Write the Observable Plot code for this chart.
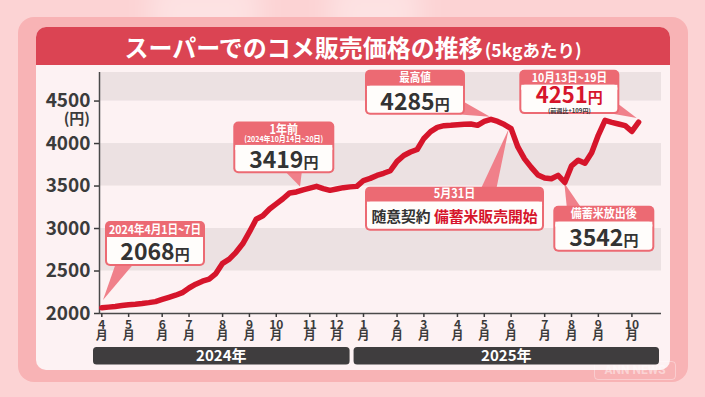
<!DOCTYPE html>
<html><head><meta charset="utf-8">
<script src="https://cdn.jsdelivr.net/npm/d3@7"></script>
<script src="https://cdn.jsdelivr.net/npm/@observablehq/plot@0.6"></script>
<style>
html,body{margin:0;padding:0;}
body{width:705px;height:397px;overflow:hidden;background:#fcd3d4;font-family:'Noto Sans CJK JP',sans-serif;}
#wrap{position:relative;width:705px;height:397px;overflow:hidden;}
.glow{position:absolute;top:-20px;height:70px;background:rgba(255,255,255,0.35);filter:blur(14px);}
#card{position:absolute;left:18px;top:17px;width:670px;height:365px;background:#f8b3b5;border-radius:16px;}
#panel{position:absolute;left:36px;top:27px;width:634px;height:343px;background:#fdf2f3;border-radius:10px;}
#title{position:absolute;left:36px;top:27px;width:634px;height:38px;background:#db4453;border-radius:10px 10px 0 0;color:#fff;display:flex;align-items:center;justify-content:center;}
#title .in{display:inline-block;white-space:nowrap;font-weight:700;}
#title .t1{font-size:24px;}
#title .t2{font-size:17.5px;margin-left:2px;}
#chart{position:absolute;left:0;top:0;}
#mark{position:absolute;left:594px;top:361px;width:80px;height:17px;border:1px solid rgba(255,255,255,0.35);border-radius:4px;color:rgba(255,255,255,0.45);font:700 12px 'Roboto',sans-serif;text-align:center;line-height:17px;}
</style></head>
<body>
<div id="wrap">
  <div class="glow" style="left:150px;width:110px;"></div>
  <div class="glow" style="left:330px;width:90px;"></div>
  <div id="card"></div>
  <div id="panel"></div>
  <div id="title"><span class="in"><span class="t1">スーパーでのコメ販売価格の推移</span><span class="t2">(5kgあたり)</span></span></div>
  <div id="mark">ANN NEWS</div>
  <div id="chart"></div>
</div>
<script>
// ---- data ----
const startWeek = "2024-04-01"; // week 0 = 2024年4月1日~7日
const prices = [
  2068, 2075, 2083, 2093, 2104, 2110, 2118, 2128, 2140, 2165,
  2190, 2215, 2245, 2300, 2345, 2380, 2405, 2470, 2590, 2640,
  2720, 2820, 2960, 3110, 3150, 3230, 3290, 3350, 3419, 3430,
  3455, 3475, 3496, 3470, 3449, 3465, 3481, 3490, 3496, 3565,
  3590, 3625, 3650, 3680, 3790, 3860, 3900, 3930, 4060, 4140,
  4190, 4210, 4214, 4220, 4226, 4230, 4214, 4260, 4285, 4260,
  4223, 4176, 3960, 3820, 3720, 3630, 3595, 3585, 3625, 3542,
  3737, 3804, 3768, 3891, 4100, 4273, 4250, 4230, 4210, 4142,
  4251
];
const monthTickWeeks = [0,4,9,13,18,22,26,31,35,39,44,48,53,57,61,66,70,74,79];
const monthLabels = ["4","5","6","7","8","9","10","11","12","1","2","3","4","5","6","7","8","9","10"];
const yearLabels = ["2024年","2025年"];
const yTicks = [2000,2500,3000,3500,4000,4500];
const bandRanges = [[2500,3000],[3500,4000],[4500,4836]];
const notes = [
  {week:0,  head:["2024年4月1日~7日"], kind:"amount"},
  {week:28, head:["1年前","(2024年10月14日~20日)"], kind:"amount"},
  {week:58, head:["最高値"], kind:"amount"},
  {week:80, head:["10月13日~19日"], kind:"amount", red:true, sub:"(前週比+109円)"},
  {week:60 + 5/7, head:["5月31日"], kind:"text", parts:["随意契約 ","備蓄米販売開始"]},
  {week:69, head:["備蓄米放出後"], kind:"amount"}
];

// ---- chart ----
const X0 = -0.343, X1 = 83.41, YMAX = 4836;
const weeks = prices.map((p,i)=>({week:i, price:p}));
const labelOf = new Map(monthTickWeeks.map((t,i)=>[t, monthLabels[i]]));
const INK = "#3b3b3b", LINE = "#d6152b", CORAL = "#ec6a73", PTR = "#f0808a";

const chart = Plot.plot({
  width: 705, height: 397,
  marginLeft: 99, marginRight: 44, marginTop: 72, marginBottom: 84,
  x: {domain:[X0, X1]},
  y: {domain:[2000, YMAX]},
  style: {background:"transparent", fontFamily:"'Noto Sans CJK JP', sans-serif", color: INK, overflow:"visible"},
  marks: [
    Plot.rect(bandRanges, {x1: () => X0, x2: () => X1, y1: d=>d[0], y2: d=>d[1], fill:"#ece1e2"}),
    Plot.ruleX([X0], {y1: 2000, y2: YMAX, stroke:"#4a4a4a", strokeWidth:1.5}),
    Plot.ruleY([2000], {stroke:"#4a4a4a", strokeWidth:1.5}),
    Plot.axisY({ticks: yTicks, tickSize:5, tickPadding:4, tickFormat: d=>String(d), fontSize:19, fontWeight:"bold", label:null, strokeWidth:1.5}),
    Plot.axisX({ticks: monthTickWeeks, tickSize:4, tickPadding:3, tickFormat: d=>labelOf.get(d)+"\n月", fontSize:12, lineHeight:0.96, fontWeight:"bold", label:null, strokeWidth:1.5}),
    Plot.line(weeks, {x:"week", y:"price", stroke: LINE, strokeWidth:5.5, strokeLinejoin:"round", strokeLinecap:"round"})
  ]
});
document.getElementById("chart").appendChild(chart);

const svg = d3.select(chart);
const xs = chart.scale("x"), ys = chart.scale("y");
const px = w => xs.apply(w), py = v => ys.apply(v);
function valueAt(w){ const i=Math.floor(w), t=w-i; return i+1<prices.length ? prices[i]*(1-t)+prices[i+1]*t : prices[i]; }

// (円) unit label
svg.append("text").attr("x", px(X0)-9).attr("y", py(4500)+23).attr("text-anchor","end")
  .attr("font-size",15).attr("font-weight",700).attr("fill",INK).text("(円)");

// year bars
const axisY = py(2000), xl = px(X0), xr = px(X1);
const mid = px((monthTickWeeks[8]+monthTickWeeks[9])/2);
const spans = [[xl-6, mid], [mid+4, xr-2]];
const yb = svg.append("g");
yearLabels.forEach((lab,i)=>{
  const [a,b] = spans[i];
  yb.append("rect").attr("x",a).attr("y",axisY+34).attr("width",b-a).attr("height",17.5).attr("rx",3.5).attr("fill","#3f3d3e");
  yb.append("text").attr("x",(a+b)/2).attr("y",axisY+48).attr("text-anchor","middle")
    .attr("font-size",15).attr("font-weight",700).attr("fill","#fff").text(lab);
});

// callouts
const layouts = [
  {dx:3.7, dy:-86.2, w:100, h:45, hh:16, base:[[13.7,-41.4],[30.7,-41.4]], tip:[1.7,-7.2], heads:[[8.3,12]], bodyY:30.7},
  {dx:-55.9, dy:-70.8, w:101, h:51.6, hh:23.3, base:[[-2.5,-19.4],[12.5,-19.4]], tip:[10.8,-5.8], heads:[[7.6,12.5],[17.8,8]], bodyY:38.3},
  {dx:-125.5, dy:-49, w:100, h:45, hh:16, base:[[-25.5,-16.3],[-30.5,-4.2]], tip:[-0.5,-2], heads:[[8,12]], bodyY:31.7},
  {dx:-118.8, dy:-51.9, w:100, h:44.3, hh:15, base:[[-18.8,-17],[-24,-7.8]], tip:[-1.4,-3.6], heads:[[7.5,12]], bodyY:25, subY:41},
  {dx:-143.7, dy:59.7, w:179, h:44, hh:15, base:[[-27,60],[-12,60]], tip:[0,2], heads:[[7.3,12.5]], bodyY:30},
  {dx:-11, dy:23.7, w:101, h:46, hh:16, base:[[2.4,24],[15.7,24]], tip:[0,1], heads:[[8.3,12.5]], bodyY:32.6}
];
const gP = svg.insert("g", "g[aria-label='line']");
const gB = svg.append("g");
notes.forEach((n,k)=>{
  const L = layouts[k];
  const v = valueAt(n.week);
  const P = [px(n.week), py(v)];
  gP.append("path").attr("d",
    `M${P[0]+L.base[0][0]},${P[1]+L.base[0][1]}L${P[0]+L.base[1][0]},${P[1]+L.base[1][1]}L${P[0]+L.tip[0]},${P[1]+L.tip[1]}Z`)
    .attr("fill",PTR);
  const bx = P[0]+L.dx, by = P[1]+L.dy, cx = bx+L.w/2;
  const g = gB.append("g");
  g.append("rect").attr("x",bx).attr("y",by).attr("width",L.w).attr("height",L.h).attr("rx",5).attr("fill",CORAL);
  g.append("rect").attr("x",bx+2).attr("y",by+L.hh).attr("width",L.w-4).attr("height",L.h-L.hh-2).attr("rx",3.5).attr("fill","#fffdfb");
  g.append("rect").attr("x",bx+2).attr("y",by+L.hh).attr("width",L.w-4).attr("height",5).attr("fill","#fffdfb");
  n.head.forEach((t,j)=>{
    const [yy, fs] = L.heads[j];
    g.append("text").attr("transform",`translate(${cx},${by+yy+fs*0.36}) scale(0.88,1)`)
      .attr("text-anchor","middle").attr("font-size",fs).attr("font-weight",700).attr("fill","#fff").text(t);
  });
  if (n.kind === "amount") {
    const col = n.red ? LINE : "#333";
    const t = g.append("text").attr("x",cx).attr("y",by+L.bodyY+8).attr("text-anchor","middle").attr("font-weight",700).attr("fill",col);
    t.append("tspan").attr("font-size",n.sub ? 22 : 23).text(String(Math.round(v)));
    t.append("tspan").attr("font-size",15).text("円");
    if (n.sub) g.append("text").attr("x",cx).attr("y",by+L.subY+2).attr("text-anchor","middle")
      .attr("font-size",6).attr("font-weight",700).attr("fill","#333").text(n.sub);
  } else {
    const t = g.append("text").attr("x",cx).attr("y",by+L.bodyY+5.5).attr("text-anchor","middle").attr("font-weight",700).attr("font-size",14.8);
    t.append("tspan").attr("fill","#333").text(n.parts[0]);
    t.append("tspan").attr("fill",LINE).text(n.parts[1]);
  }
});
</script>
</body></html>
